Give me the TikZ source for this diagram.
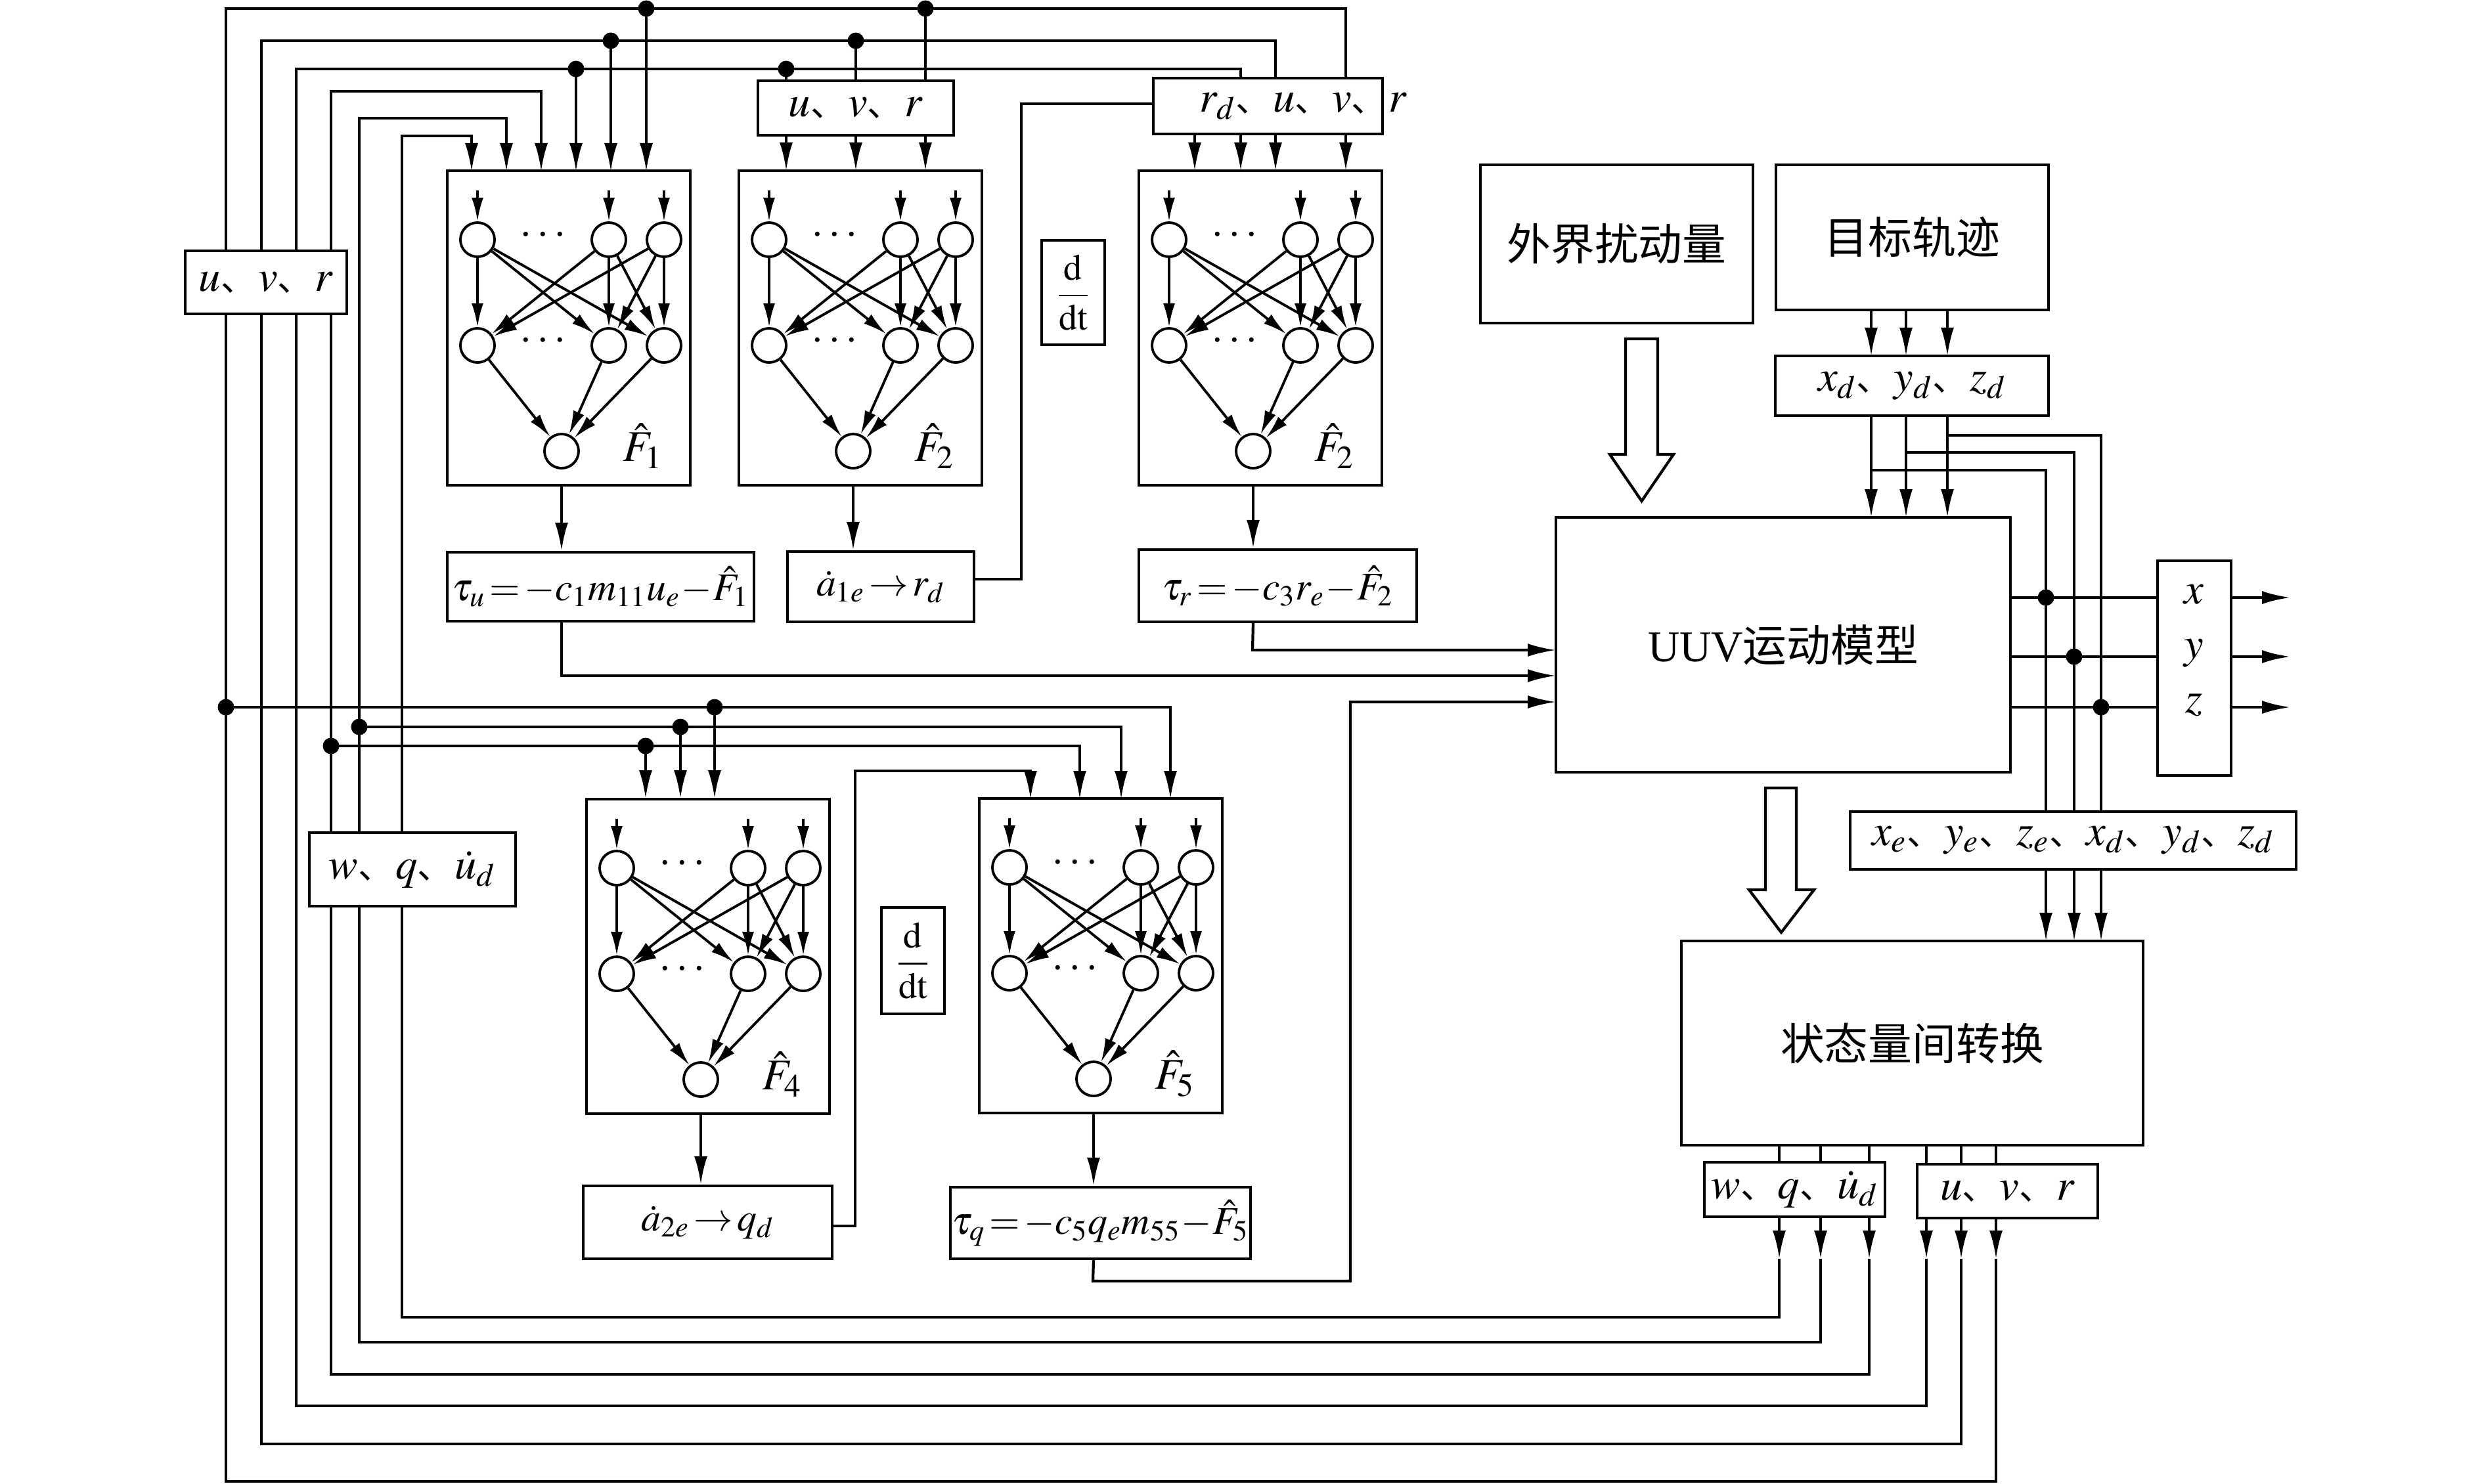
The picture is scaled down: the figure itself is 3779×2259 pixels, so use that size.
\documentclass[tikz,border=0pt]{standalone}
\usepackage{mathptmx}
\usepackage[no-math]{fontspec}
\setmainfont{Liberation Serif}
\newfontfamily\cjk{Noto Sans CJK SC}
\usetikzlibrary{arrows.meta,backgrounds}
\newcommand{\dun}{\makebox[0.85em][l]{\cjk\fontsize{15}{18}\selectfont 、}}
\tikzset{
  wire/.style={line width=1.2pt},
  arr/.style={line width=1.2pt, -{Latex[length=4.3mm,width=2mm]}},
  nnarr/.style={line width=1.1pt, -{Latex[length=3.6mm,width=1.8mm]}},
  box/.style={draw, line width=1.2pt, fill=white, inner sep=0pt, align=center, font=\fontsize{19}{23}\selectfont},
  eqbox/.style={box, font=\fontsize{17}{21}\selectfont},
  nnbox/.style={draw, line width=1.2pt, fill=white, minimum width=3.7cm, minimum height=4.79cm, inner sep=0pt},
  neuron/.style={draw, circle, line width=1.1pt, minimum size=0.52cm, inner sep=0pt},
  junc/.style={circle, fill, inner sep=0pt, minimum size=0.25cm},
  lbl/.style={inner sep=1pt, font=\fontsize{19}{23}\selectfont},
  hollow/.style={draw, line width=1.2pt, fill=white},
}
% one network block: name, x of first column, y of top row, index of the estimate
\newcommand{\nnet}[4]{%
  \node[nnbox] (#1) at (#2+139,#3+134.5) {};
  \foreach \i/\dx in {1/0,2/200,3/284}{
    \node[neuron] (#1a\i) at (#2+\dx,#3) {};
    \node[neuron] (#1b\i) at (#2+\dx,#3+161) {};
  }
  \node[neuron] (#1o) at (#2+128,#3+322) {};
  \node[lbl] at (#2+100,#3-6) {$\cdots$};
  \node[lbl] at (#2+100,#3+155) {$\cdots$};
  \node[lbl] at (#2+252,#3+314) {$\hat{F}_{#4}$};
  \foreach \i in {1,2,3}{
    \draw[nnarr] ([yshift=0.75cm]#1a\i.center) -- (#1a\i);
    \foreach \j in {1,2,3} \draw[nnarr] (#1a\i) -- (#1b\j);
    \draw[nnarr] (#1b\i) -- (#1o);
  }
}

\begin{document}
\begin{tikzpicture}[x=0.01cm, y=-0.01cm]
\useasboundingbox (0,0) rectangle (3779,2259);

% networks
\nnet{netu}{727}{365}{1}
\nnet{neta}{1171}{365}{2}
\nnet{netr}{1780}{365}{2}
\nnet{netw}{939}{1322}{4}
\nnet{netq}{1537}{1321}{5}

% signal boxes
\node[box, minimum width=2.46cm, minimum height=0.96cm] (uvrL) at (405,430) {$u$\dun $v$\dun $r$};
\node[box, minimum width=2.98cm, minimum height=0.83cm] (uvrM) at (1303,164.5) {$u$\dun $v$\dun $r$};
\node[box, minimum width=3.49cm, minimum height=0.85cm] (rdbox) at (1930.5,161.5) {};
\node[lbl, anchor=west] at (1822,161.5) {$r_d$\dun $u$\dun $v$\dun $r$};
\node[box, minimum width=0.96cm, minimum height=1.59cm, font=\fontsize{16}{19}\selectfont] (ddtA) at (1634,445.5) {$\displaystyle\frac{\mathrm{d}}{\mathrm{dt}}$};
\node[box, minimum width=0.96cm, minimum height=1.62cm, font=\fontsize{16}{19}\selectfont] (ddtB) at (1390,1463) {$\displaystyle\frac{\mathrm{d}}{\mathrm{dt}}$};
\node[eqbox, minimum width=4.67cm, minimum height=1.05cm] (tauu) at (914.5,893.5) {$\tau_u\!=\!{-}c_1m_{11}u_e\!-\!\hat{F}_1$};
\node[eqbox, minimum width=2.84cm, minimum height=1.07cm] (aone) at (1341,893.5) {$\dot{a}_{1e}\,{\rightarrow}\,r_d$};
\node[eqbox, minimum width=4.23cm, minimum height=1.10cm] (taur) at (1945.5,892) {$\tau_r\!=\!{-}c_3r_e\!-\!\hat{F}_2$};
\node[box, minimum width=3.14cm, minimum height=1.12cm] (wqL) at (628,1324) {$w$\dun $q$\dun $\dot{u}_d$};
\node[eqbox, minimum width=3.79cm, minimum height=1.11cm] (atwo) at (1077.5,1861.5) {$\dot{a}_{2e}\,{\rightarrow}\,q_d$};
\node[eqbox, minimum width=4.57cm, minimum height=1.09cm] (tauq) at (1675.5,1862.5) {$\tau_q\!=\!{-}c_5q_em_{55}\!-\!\hat{F}_5$};

% plant side
\node[box, minimum width=4.15cm, minimum height=2.41cm] (dist) at (2461.5,371.5) {\cjk 外界扰动量};
\node[box, minimum width=4.15cm, minimum height=2.21cm] (traj) at (2911.5,361.5) {\cjk 目标轨迹};
\node[box, minimum width=4.16cm, minimum height=0.91cm] (xd) at (2911,587.5) {$x_d$\dun $y_d$\dun $z_d$};
\node[box, minimum width=6.92cm, minimum height=3.88cm] (uuv) at (2715,982) {UUV{\cjk 运动模型}};
\node[box, minimum width=1.12cm, minimum height=3.27cm] (xyz) at (3341,1017.5) {};
\node[lbl] at (3340,905) {$x$};
\node[lbl] at (3340,995) {$y$};
\node[lbl] at (3340,1074) {$z$};
\node[box, minimum width=6.79cm, minimum height=0.88cm] (xe) at (3156.5,1280) {$x_e$\dun $y_e$\dun $z_e$\dun $x_d$\dun $y_d$\dun $z_d$};
\node[box, minimum width=7.03cm, minimum height=3.11cm] (conv) at (2911.5,1588.5) {\cjk 状态量间转换};
\node[box, minimum width=2.75cm, minimum height=0.83cm] (wqB) at (2732.5,1811.5) {$w$\dun $q$\dun $\dot{u}_d$};
\node[box, minimum width=2.75cm, minimum height=0.82cm] (uvrB) at (3056.5,1814) {$u$\dun $v$\dun $r$};

% hollow arrows
\draw[hollow] (2475,516) -- (2524,516) -- (2524,692) -- (2548,692) -- (2499.5,763) -- (2451,692) -- (2475,692) -- cycle;
\draw[hollow] (2688,1200) -- (2735,1200) -- (2735,1355) -- (2762,1355) -- (2712,1420) -- (2663,1355) -- (2688,1355) -- cycle;

\begin{scope}[on background layer]
  % feedback loops round the left edge
  \draw[wire] (3039,1917) -- (3039,2256) -- (344,2256) -- (344,13) -- (2049,13) -- (2049,119);
  \draw[wire] (2986,1917) -- (2986,2199) -- (398,2199) -- (398,62) -- (1942,62) -- (1942,119);
  \draw[wire] (2933,1917) -- (2933,2141) -- (451,2141) -- (451,105) -- (1889,105) -- (1889,119);
  \draw[arr] (2846,1917) -- (2846,2093) -- (504,2093) -- (504,139) -- (824,139) -- (824,261);
  \draw[arr] (2772,1917) -- (2772,2044) -- (547,2044) -- (547,180) -- (771,180) -- (771,261);
  \draw[arr] (2709,1917) -- (2709,2006) -- (612,2006) -- (612,207) -- (718,207) -- (718,261);
  \foreach \x in {2709,2772,2846} \draw[arr] (\x,1853) -- (\x,1917);
  \foreach \x in {2933,2986,3039} \draw[arr] (\x,1855) -- (\x,1917);
  % taps of the upper bus
  \draw[arr] (984,13) -- (984,261);
  \draw[arr] (930,62) -- (930,261);
  \draw[arr] (877,105) -- (877,261);
  \draw[wire] (1409,13) -- (1409,123);
  \draw[wire] (1303,62) -- (1303,123);
  \draw[wire] (1197,105) -- (1197,123);
  \foreach \x in {1197,1303,1409} \draw[arr] (\x,206) -- (\x,260);
  \foreach \x in {1819,1889,1942,2049} \draw[arr] (\x,204) -- (\x,260);
  \draw[wire] (1483,882) -- (1555,882) -- (1555,158) -- (1756,158);
  % lower bus
  \draw[arr] (344,1077) -- (1782,1077) -- (1782,1217);
  \draw[arr] (547,1107) -- (1707,1107) -- (1707,1217);
  \draw[arr] (504,1136) -- (1644,1136) -- (1644,1217);
  \draw[arr] (1088,1077) -- (1088,1216);
  \draw[arr] (1036,1107) -- (1036,1216);
  \draw[arr] (983,1136) -- (983,1216);
  \draw[arr] (1267,1867) -- (1302,1867) -- (1302,1174) -- (1569,1174) -- (1569,1217);
  % network outputs
  \draw[arr] (netuo) -- (netuo |- tauu.north);
  \draw[arr] (netao) -- (netao |- aone.north);
  \draw[arr] (netro) -- (netro |- taur.north);
  \draw[arr] (netwo) -- (netwo |- atwo.north);
  \draw[arr] (netqo) -- (netqo |- tauq.north);
  % control inputs to the UUV
  \draw[arr] (netro |- taur.south) -- (1907,990) -- (2369,990);
  \draw[arr] (netuo |- tauu.south) -- (855,1029) -- (2369,1029);
  \draw[arr] (netqo |- tauq.south) -- (1664,1951) -- (2056,1951) -- (2056,1069) -- (2369,1069);
  % trajectory and outputs
  \foreach \x in {2849,2902,2965}{
    \draw[arr] (\x,472) -- (\x,542);
    \draw[arr] (\x,633) -- (\x,788);
  }
  \draw[wire] (2965,663) -- (3199,663) -- (3199,1236);
  \draw[wire] (2902,689) -- (3158,689) -- (3158,1236);
  \draw[wire] (2849,716) -- (3115,716) -- (3115,1236);
  \foreach \x in {3115,3158,3199} \draw[arr] (\x,1324) -- (\x,1433);
  \foreach \y in {910,1000,1077}{
    \draw[wire] (3061,\y) -- (3285,\y);
    \draw[arr] (3397,\y) -- (3487,\y);
  }
  \foreach \x in {2709,2772,2846} \draw[wire] (\x,1744) -- (\x,1770);
  \foreach \x in {2933,2986,3039} \draw[wire] (\x,1744) -- (\x,1773);
\end{scope}

% junctions
\foreach \x/\y in {984/13, 930/62, 877/105, 1409/13, 1303/62, 1197/105,
  344/1077, 547/1107, 504/1136, 1088/1077, 1036/1107, 983/1136,
  3115/910, 3158/1000, 3199/1077}
  \node[junc] at (\x,\y) {};
\end{tikzpicture}
\end{document}
